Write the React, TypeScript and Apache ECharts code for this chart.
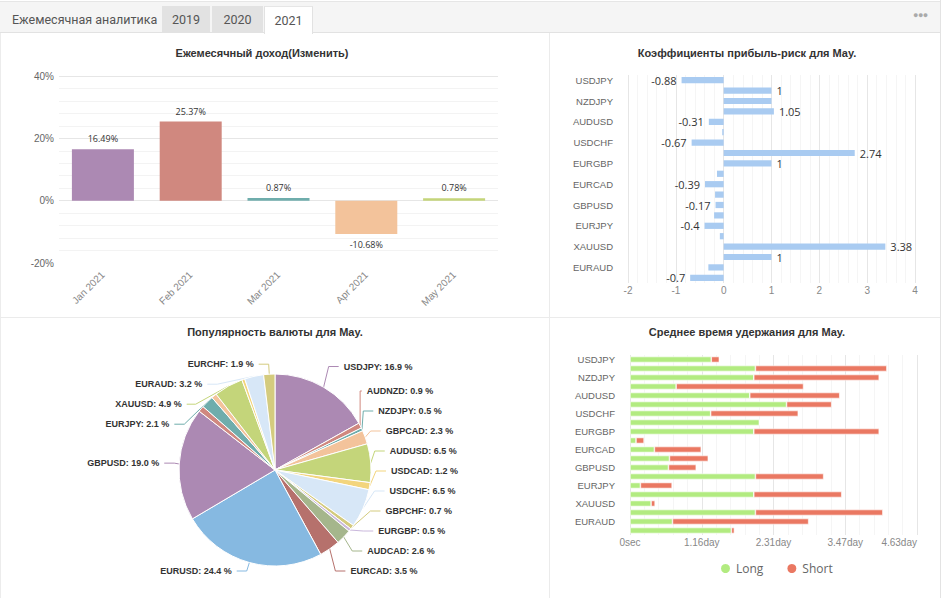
import React, { useEffect, useRef } from 'react';
import * as echarts from 'echarts';

// Monthly return, %
const months = ['Jan 2021', 'Feb 2021', 'Mar 2021', 'Apr 2021', 'May 2021'];
const monthlyReturn = [16.49, 25.37, 0.87, -10.68, 0.78];

// Currency pairs traded in May (shared by the three May panels)
const pairs = [
  'USDJPY', 'AUDNZD', 'NZDJPY', 'GBPCAD', 'AUDUSD', 'USDCAD', 'USDCHF', 'GBPCHF', 'EURGBP', 'AUDCAD',
  'EURCAD', 'EURUSD', 'GBPUSD', 'GBPJPY', 'EURJPY', 'AUDJPY', 'XAUUSD', 'NZDUSD', 'EURAUD', 'EURCHF',
];

// Reward / risk ratio per pair
const rewardRisk = [
  -0.88, 1, 1, 1.05, -0.31, -0.03, -0.67, 2.74, 1, -0.14,
  -0.39, -0.18, -0.17, -0.2, -0.4, -0.08, 3.38, 1, -0.32, -0.7,
];
const rewardRiskLabeled = [
  true, true, false, true, true, false, true, true, true, false,
  true, false, true, false, true, false, true, true, false, true,
];

// Share of trades per pair, %
const popularity = [
  16.9, 0.9, 0.5, 2.3, 6.5, 1.2, 6.5, 0.7, 0.5, 2.6,
  3.5, 24.4, 19.0, 1.0, 2.1, 0.9, 4.9, 0.5, 3.2, 1.9,
];
const popularityLabeled = [
  true, true, true, true, true, true, true, true, true, true,
  true, true, true, false, true, false, true, false, true, true,
];

// Average holding time, seconds
const holdLong = [
  113300, 174800, 172500, 64300, 166900, 218200, 112400, 180400, 172500, 8400,
  34000, 55000, 53600, 174800, 14500, 172500, 29400, 174800, 59200, 141300,
];
const holdShort = [
  11200, 183200, 174800, 177600, 125400, 62900, 122100, 0, 174800, 11200,
  65300, 54100, 38700, 95100, 44200, 122600, 5600, 177600, 189800, 4200,
];

const palette = [
  '#ac89b3', '#d0887f', '#6fadac', '#f3c39b', '#c4d57a', '#f3d57d',
  '#d7e7f7', '#d4cb7e', '#cab8dc', '#a5b68c', '#b6716c', '#86b9e1',
];

const SANS = '"Liberation Sans", Arial, sans-serif';
const OPEN = '"Open Sans", sans-serif';

const titleText = (text: string, x: number, y: number) => ({
  type: 'text',
  x,
  y,
  silent: true,
  style: {
    text,
    align: 'center',
    verticalAlign: 'middle',
    fontSize: 11,
    fontWeight: 'bold',
    fontFamily: SANS,
    fill: '#333',
  },
});

const monthlyOption = {
  animation: false,
  textStyle: { fontFamily: SANS },
  graphic: [titleText('Ежемесячный доход(Изменить)', 262, 19)],
  grid: { left: 59, right: 51, top: 42, bottom: 54 },
  xAxis: {
    type: 'category',
    data: months,
    axisLine: { show: false, onZero: false },
    axisTick: { show: false },
    axisLabel: { rotate: 45, color: '#888', fontSize: 10, margin: 10 },
  },
  yAxis: {
    type: 'value',
    min: -20,
    max: 40,
    interval: 20,
    axisLabel: { formatter: '{value}%', color: '#666', fontSize: 10, margin: 5 },
    axisLine: { show: false },
    axisTick: { show: false },
    splitLine: { showMinLine: false, lineStyle: { color: '#e6e6e6' } },
    minorTick: { show: false, splitNumber: 5 },
    minorSplitLine: { show: true, lineStyle: { color: '#f3f3f3' } },
  },
  series: [
    {
      type: 'bar',
      barWidth: 62,
      data: monthlyReturn.map((v, i) => ({
        value: v,
        itemStyle: { color: palette[i] },
        label: { position: v < 0 ? 'bottom' : 'top' },
      })),
      label: { show: true, formatter: '{c}%', color: '#333', fontSize: 9, fontFamily: OPEN, distance: 6 },
    },
  ],
};

const rewardRiskOption = {
  animation: false,
  textStyle: { fontFamily: SANS },
  graphic: [titleText('Коэффициенты прибыль-риск для May.', 197, 19)],
  grid: { left: 78, right: 25, top: 41, bottom: 34 },
  xAxis: {
    type: 'value',
    min: -2,
    max: 4,
    interval: 1,
    axisLine: { show: false },
    axisTick: { show: false },
    axisLabel: { color: '#888', fontSize: 10, margin: 2 },
    splitLine: { lineStyle: { color: '#e6e6e6' } },
    minorTick: { show: false, splitNumber: 5 },
    minorSplitLine: { show: true, lineStyle: { color: '#f5f5f5' } },
  },
  yAxis: {
    type: 'category',
    inverse: true,
    data: pairs,
    axisLine: { show: false },
    axisTick: { show: false },
    axisLabel: { interval: 1, color: '#666', fontSize: 9.5, margin: 15 },
  },
  series: [
    {
      type: 'bar',
      barWidth: '60%',
      itemStyle: { color: '#a9cbf1' },
      data: rewardRisk.map((v, i) => ({
        value: v,
        label: { show: rewardRiskLabeled[i], position: v < 0 ? 'left' : 'right' },
      })),
      label: { color: '#333', fontSize: 11, fontFamily: OPEN, distance: 5 },
    },
  ],
};

const popularityOption = {
  animation: false,
  color: palette,
  textStyle: { fontFamily: SANS },
  graphic: [titleText('Популярность валюты для May.', 275, 14)],
  series: [
    {
      type: 'pie',
      center: [275, 152],
      radius: 96,
      startAngle: 90,
      clockwise: true,
      itemStyle: { borderColor: '#fff', borderWidth: 1 },
      label: {
        formatter: (p: any) => `${p.name}: ${Number(p.value).toFixed(1)} %`,
        fontSize: 9,
        fontWeight: 'bold',
        color: '#333',
        lineHeight: 18,
      },
      labelLine: { length: 10, length2: 10 },
      data: pairs.map((name, i) => ({
        name,
        value: popularity[i],
        label: { show: popularityLabeled[i] },
        labelLine: { show: popularityLabeled[i] },
      })),
    },
  ],
};

const formatHold = (v: number) => (v === 0 ? '0sec' : `${(v / 86400).toFixed(2)}day`);

const holdOption = {
  animation: false,
  textStyle: { fontFamily: SANS },
  graphic: [titleText('Среднее время удержания для May.', 197, 14)],
  grid: { left: 80, right: 23, top: 37, bottom: 63 },
  legend: {
    left: 164,
    top: 239,
    icon: 'circle',
    itemWidth: 11,
    itemHeight: 11,
    itemGap: 22,
    textStyle: { color: '#666', fontSize: 12, fontFamily: OPEN },
    data: ['Long', 'Short'],
  },
  xAxis: {
    type: 'value',
    min: 0,
    max: 400000,
    interval: 100000,
    axisLine: { show: false },
    axisTick: { show: false },
    axisLabel: { formatter: formatHold, color: '#888', fontSize: 10, margin: 2, alignMaxLabel: 'right' },
    splitLine: { lineStyle: { color: '#e6e6e6' } },
    minorTick: { show: false, splitNumber: 5 },
    minorSplitLine: { show: true, lineStyle: { color: '#f5f5f5' } },
  },
  yAxis: {
    type: 'category',
    inverse: true,
    data: pairs,
    axisLine: { show: false },
    axisTick: { show: false },
    axisLabel: { interval: 1, color: '#666', fontSize: 9.5, margin: 15 },
  },
  series: [
    {
      name: 'Long',
      type: 'bar',
      stack: 'hold',
      barWidth: '66%',
      itemStyle: { color: '#b2eb80', borderColor: '#fff', borderWidth: 0.6 },
      data: holdLong,
    },
    {
      name: 'Short',
      type: 'bar',
      stack: 'hold',
      barWidth: '66%',
      itemStyle: { color: '#ea7862', borderColor: '#fff', borderWidth: 0.6 },
      data: holdShort,
    },
  ],
};

function EChart(props: { option: any; left: number; top: number; width: number; height: number }) {
  const { option, left, top, width, height } = props;
  const ref = useRef<HTMLDivElement>(null);
  useEffect(() => {
    const chart = echarts.init(ref.current as HTMLDivElement, undefined, { renderer: 'svg' });
    chart.setOption(option);
    return () => chart.dispose();
  }, [option]);
  return <div ref={ref} style={{ position: 'absolute', left, top, width, height }} />;
}

const tabBase: React.CSSProperties = {
  position: 'absolute',
  top: 6,
  height: 27,
  lineHeight: '27px',
  textAlign: 'center',
  fontFamily: 'Roboto, sans-serif',
  fontSize: 12.5,
  color: '#555',
  boxSizing: 'border-box',
};

export default function App() {
  return (
    <div
      style={{
        position: 'fixed',
        left: 0,
        top: 0,
        width: 944,
        height: 598,
        background: '#fff',
        overflow: 'hidden',
      }}
    >
      {/* tab strip */}
      <div
        style={{
          position: 'absolute',
          left: 0,
          top: 1,
          width: 941,
          height: 32,
          background: '#f5f5f5',
          borderTop: '1px solid #e6e6e6',
          borderBottom: '1px solid #e2e2e2',
          boxSizing: 'border-box',
        }}
      />
      <div style={{ ...tabBase, left: 0, width: 160, textAlign: 'left', paddingLeft: 12 }}>Ежемесячная аналитика</div>
      <div style={{ ...tabBase, left: 162, width: 48, background: '#e2e2e2' }}>2019</div>
      <div style={{ ...tabBase, left: 212, width: 51, background: '#e2e2e2' }}>2020</div>
      <div
        style={{
          ...tabBase,
          left: 264,
          width: 49,
          height: 28,
          background: '#fff',
          borderLeft: '1px solid #e2e2e2',
          borderRight: '1px solid #e2e2e2',
          borderTop: '1px solid #e6e6e6',
        }}
      >
        2021
      </div>
      <div
        style={{
          position: 'absolute',
          left: 913,
          top: 10,
          fontFamily: 'Arial, sans-serif',
          fontSize: 9,
          letterSpacing: -0.5,
          color: '#aaa',
        }}
      >
        ●●●
      </div>

      {/* panel frame */}
      <div style={{ position: 'absolute', left: 0, top: 33, width: 1, height: 565, background: '#ececec' }} />
      <div style={{ position: 'absolute', left: 940, top: 0, width: 1, height: 598, background: '#e3e3e3' }} />
      <div style={{ position: 'absolute', left: 549, top: 33, width: 1, height: 565, background: '#ebebeb' }} />
      <div style={{ position: 'absolute', left: 0, top: 317, width: 940, height: 1, background: '#ebebeb' }} />

      <EChart option={monthlyOption} left={0} top={34} width={549} height={283} />
      <EChart option={rewardRiskOption} left={550} top={34} width={390} height={283} />
      <EChart option={popularityOption} left={0} top={318} width={549} height={263} />
      <EChart option={holdOption} left={550} top={318} width={390} height={280} />
    </div>
  );
}
